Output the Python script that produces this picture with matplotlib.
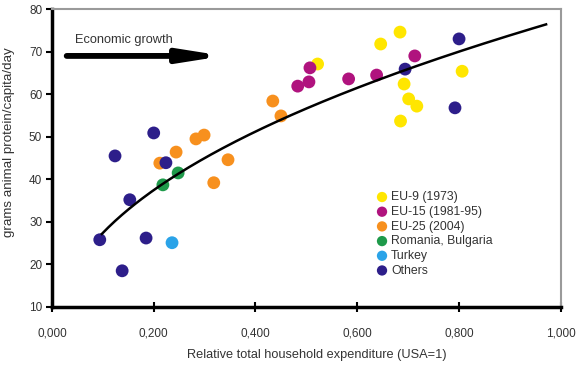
import numpy as np
import matplotlib
matplotlib.use("Agg")
import matplotlib.pyplot as plt

plt.rcParams['font.family'] = ['Liberation Sans', 'DejaVu Sans']

# values
eu9_x = [0.522, 0.646, 0.684, 0.692, 0.701, 0.717, 0.685, 0.806]
eu9_y = [67.1, 71.8, 74.6, 62.4, 58.9, 57.2, 53.7, 65.4]

eu15_x = [0.483, 0.507, 0.505, 0.583, 0.638, 0.713]
eu15_y = [61.9, 66.2, 62.9, 63.6, 64.5, 69.0]

eu25_x = [0.212, 0.244, 0.283, 0.299, 0.346, 0.318, 0.434, 0.450]
eu25_y = [43.8, 46.4, 49.5, 50.4, 44.6, 39.2, 58.4, 54.9]

rombul_x = [0.218, 0.248]
rombul_y = [38.7, 41.5]

turkey_x = [0.236]
turkey_y = [25.1]

others_x = [0.094, 0.124, 0.153, 0.138, 0.185, 0.200, 0.224, 0.694, 0.800, 0.792]
others_y = [25.8, 45.5, 35.2, 18.5, 26.2, 50.9, 43.9, 65.9, 73.0, 56.8]

groups = [
    ("EU-9 (1973)", eu9_x, eu9_y, "#ffe600"),
    ("EU-15 (1981-95)", eu15_x, eu15_y, "#b0137e"),
    ("EU-25 (2004)", eu25_x, eu25_y, "#f7901e"),
    ("Romania, Bulgaria", rombul_x, rombul_y, "#1e9a4a"),
    ("Turkey", turkey_x, turkey_y, "#2aa3e8"),
    ("Others", others_x, others_y, "#2d1e8a"),
]

txt = '#333333'

fig = plt.figure(figsize=(5.77, 3.65), dpi=100)
ax = fig.add_axes([0.090, 0.159, 0.882, 0.816])

for name, xs, ys, col in groups:
    ax.scatter(xs, ys, s=85, color=col, edgecolors='none', label=name, zorder=3)

# power trend line fitted on all points
all_x = np.concatenate([g[1] for g in groups])
all_y = np.concatenate([g[2] for g in groups])
p, lnc = np.polyfit(np.log(all_x), np.log(all_y), 1)
xx = np.linspace(0.098, 0.971, 200)
ax.plot(xx, np.exp(lnc) * xx ** p, color='black', lw=1.8, zorder=4)

# economic growth arrow
ax.annotate("", xy=(0.338, 69.0), xytext=(0.029, 69.0),
            arrowprops=dict(arrowstyle='-|>,head_length=2.4,head_width=0.38',
                            color='black', lw=4.2, shrinkA=0, shrinkB=0))
ax.text(0.046, 72.7, "Economic growth", fontsize=9.2, va='center', color=txt)

ax.set_xlim(0, 1)
ax.set_ylim(10, 80)
ax.set_xticks([0, 0.2, 0.4, 0.6, 0.8, 1.0])
ax.set_xticklabels(["0,000", "0,200", "0,400", "0,600", "0,800", "1,000"])
ax.set_yticks(range(10, 81, 10))

ax.tick_params(axis='x', direction='inout', length=7, width=1.5, pad=11,
               labelsize=8.5, labelcolor=txt)
ax.tick_params(axis='y', direction='out', length=4, width=1.5, pad=3,
               labelsize=8.5, labelcolor=txt)

for s in ['left', 'bottom']:
    ax.spines[s].set_linewidth(2.5)
    ax.spines[s].set_color('black')
for s in ['top', 'right']:
    ax.spines[s].set_linewidth(1.5)
    ax.spines[s].set_color('#9a9a9a')

ax.set_xlabel("Relative total household expenditure (USA=1)", fontsize=9.2, color=txt)
ax.xaxis.set_label_coords(0.52, -0.142)
ax.set_ylabel("grams animal protein/capita/day", fontsize=9.6, color=txt)
ax.yaxis.set_label_coords(-0.072, 0.555)

leg = ax.legend(loc='upper left', bbox_to_anchor=(0.627, 0.405), frameon=False,
                fontsize=8.8, handletextpad=0.25, labelspacing=0.22,
                borderaxespad=0, handlelength=1.0, scatterpoints=1)
for t in leg.get_texts():
    t.set_color(txt)
for h in leg.legend_handles:
    h.set_sizes([55])

fig.savefig("out.png", dpi=100)
